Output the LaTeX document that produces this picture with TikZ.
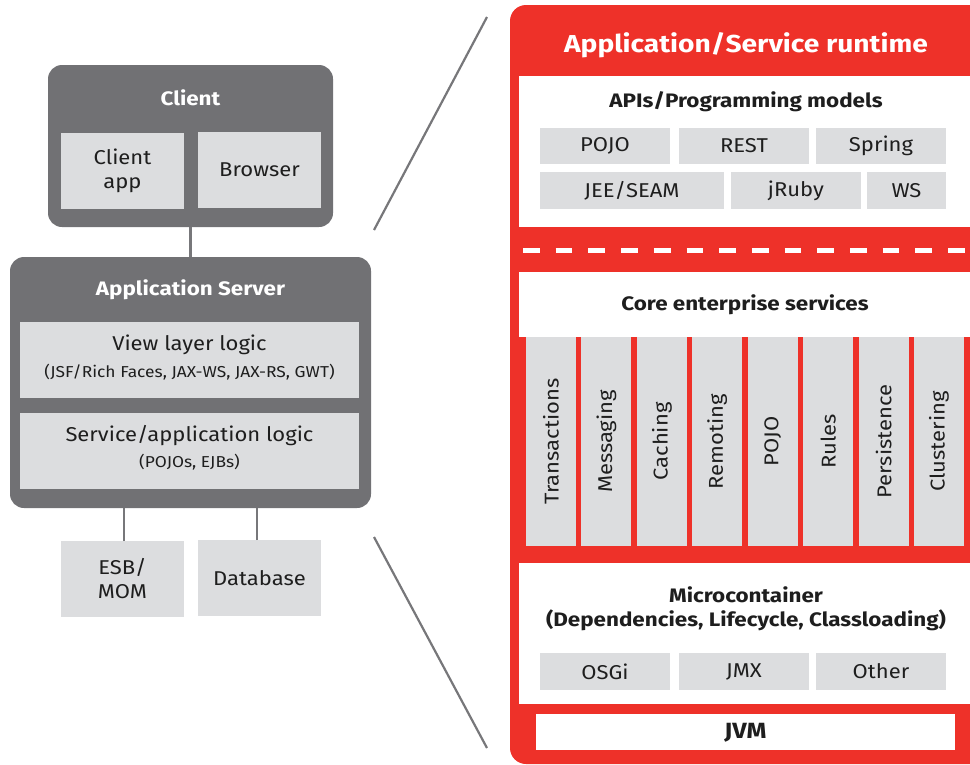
\documentclass[tikz,border=0pt]{standalone}
\usepackage{fontspec}
\setmainfont{Fira Sans}[FakeStretch=1.1]
\newfontfamily\heavy{Fira Sans Bold}[FakeStretch=1.15]
\definecolor{rhgray}{HTML}{717174}
\definecolor{rhlight}{HTML}{DCDDDF}
\definecolor{rhred}{HTML}{EE3129}
\definecolor{rhline}{HTML}{77777A}
\definecolor{rhtext}{HTML}{1E1E1E}
\tikzset{
  panel/.style={fill=rhgray, rounded corners=14pt, inner sep=0pt, outer sep=0pt},
  cell/.style={fill=rhlight, inner sep=0pt, outer sep=0pt, text=rhtext, align=center,
               font=\fontsize{20}{24}\selectfont},
  sheet/.style={fill=white, inner sep=0pt, outer sep=0pt, anchor=north west},
  paneltitle/.style={text=white, font=\heavy\fontsize{19.5}{22}\selectfont, inner sep=0pt},
  secttitle/.style={text=rhtext, font=\heavy\fontsize{19.5}{24}\selectfont, inner sep=0pt, align=center},
  celltext/.style={text=rhtext, font=\fontsize{20}{24}\selectfont, inner sep=0pt},
  subtext/.style={text=rhtext, font=\fontsize{15.8}{18}\selectfont, inner sep=0pt},
  conn/.style={draw=rhline, line width=2.2pt},
}
\begin{document}
\begin{tikzpicture}[x=1pt, y=-1pt]
\useasboundingbox (0,0) rectangle (970,764);
\clip (0,0) rectangle (970,764);

% ---------- left: deployment overview ----------
\node[panel, minimum width=285, minimum height=162] (client) at (190.5,146) {};
\node[paneltitle] (clienttitle) at (190.5,98) {Client};
\node[cell, minimum width=123, minimum height=76] (clientapp) at (122.5,171) {Client\\app};
\node[cell, minimum width=123, minimum height=76] (browser) at (259.5,170) {Browser};

\node[panel, minimum width=361, minimum height=251] (appsrv) at (190.5,382.5) {};
\node[paneltitle] (appsrvtitle) at (190.5,290) {Application Server};
\node[cell, minimum width=339, minimum height=76] (viewlayer) at (189.5,360) {};
\node[celltext] (viewtitle) at (189.5,345) {View layer logic};
\node[subtext] (viewsub) at (189.5,372) {(JSF/Rich Faces, JAX-WS, JAX-RS, GWT)};
\node[cell, minimum width=339, minimum height=76] (servicelayer) at (189.5,451) {};
\node[celltext] (servicetitle) at (189.5,436) {Service/application logic};
\node[subtext] (servicesub) at (189.5,462) {(POJOs, EJBs)};

\node[cell, minimum width=123, minimum height=76] (esb) at (122.5,579) {ESB/\\MOM};
\node[cell, minimum width=123, minimum height=76] (db) at (259.5,578) {Database};

\draw[conn] (client.south) -- (appsrv.north);
\draw[conn] ([xshift=1.5pt]esb.north) -- ([xshift=1.5pt]esb.north |- appsrv.south);
\draw[conn] ([xshift=-2.5pt]db.north) -- ([xshift=-2.5pt]db.north |- appsrv.south);

% zoom lines towards the runtime detail
\coordinate (zoomtopA) at (374,230);
\coordinate (zoomtopB) at (487,17);
\coordinate (zoombotA) at (374,537);
\coordinate (zoombotB) at (487,748);
\draw[conn] (zoomtopA) -- (zoomtopB);
\draw[conn] (zoombotA) -- (zoombotB);

% ---------- right: application/service runtime ----------
\fill[rhred, rounded corners=16pt] (510,5) rectangle (1010,764);
\node[text=white, font=\heavy\fontsize{24.5}{30}\selectfont, inner sep=0pt] (runtimetitle) at (746,45) {Application/Service runtime};

% APIs / programming models
\node[sheet, minimum width=460, minimum height=151] (apis) at (519,76) {};
\node[secttitle] (apistitle) at (746,102) {APIs/Programming models};
\node[cell, minimum width=130, minimum height=36] (apipojo) at (605,146) {POJO};
\node[cell, minimum width=130, minimum height=36] (apirest) at (744,146) {REST};
\node[cell, minimum width=130, minimum height=36] (apispring) at (881,146) {Spring};
\node[cell, minimum width=184, minimum height=37] (apijee) at (632,190.5) {JEE/SEAM};
\node[cell, minimum width=130, minimum height=37] (apijruby) at (796,190.5) {jRuby};
\node[cell, minimum width=79, minimum height=37] (apiws) at (906.5,190.5) {WS};

% dashed separator
\coordinate (dashL) at (523,250);
\coordinate (dashR) at (975,250);
\draw[white, line width=5pt, dash pattern=on 16.7pt off 16pt] (dashL) -- (dashR);

% core enterprise services
\node[sheet, minimum width=460, minimum height=65] (core) at (519,272) {};
\node[secttitle] (coretitle) at (745,305) {Core enterprise services};
\foreach \lbl [count=\i] in {Transactions,Messaging,Caching,Remoting,POJO,Rules,Persistence,Clustering}{
  \node[cell, rotate=90, minimum width=209, minimum height=50] (svc\i)
    at ({551+(\i-1)*55.43},441.5) {\lbl};
}

% microcontainer
\node[sheet, minimum width=460, minimum height=141] (micro) at (519,563) {};
\node[secttitle] (microtitle) at (746,609) {Microcontainer\\(Dependencies, Lifecycle, Classloading)};
\node[cell, minimum width=130, minimum height=37] (mcosgi) at (605,671.5) {OSGi};
\node[cell, minimum width=130, minimum height=37] (mcjmx) at (744,671.5) {JMX};
\node[cell, minimum width=130, minimum height=37] (mcother) at (881,671.5) {Other};

% JVM
\node[sheet, minimum width=419, minimum height=36] (jvm) at (536,714) {};
\node[secttitle, font=\heavy\fontsize{22}{24}\selectfont] (jvmtitle) at ([yshift=-0.5pt]jvm.center) {JVM};
\end{tikzpicture}
\end{document}
